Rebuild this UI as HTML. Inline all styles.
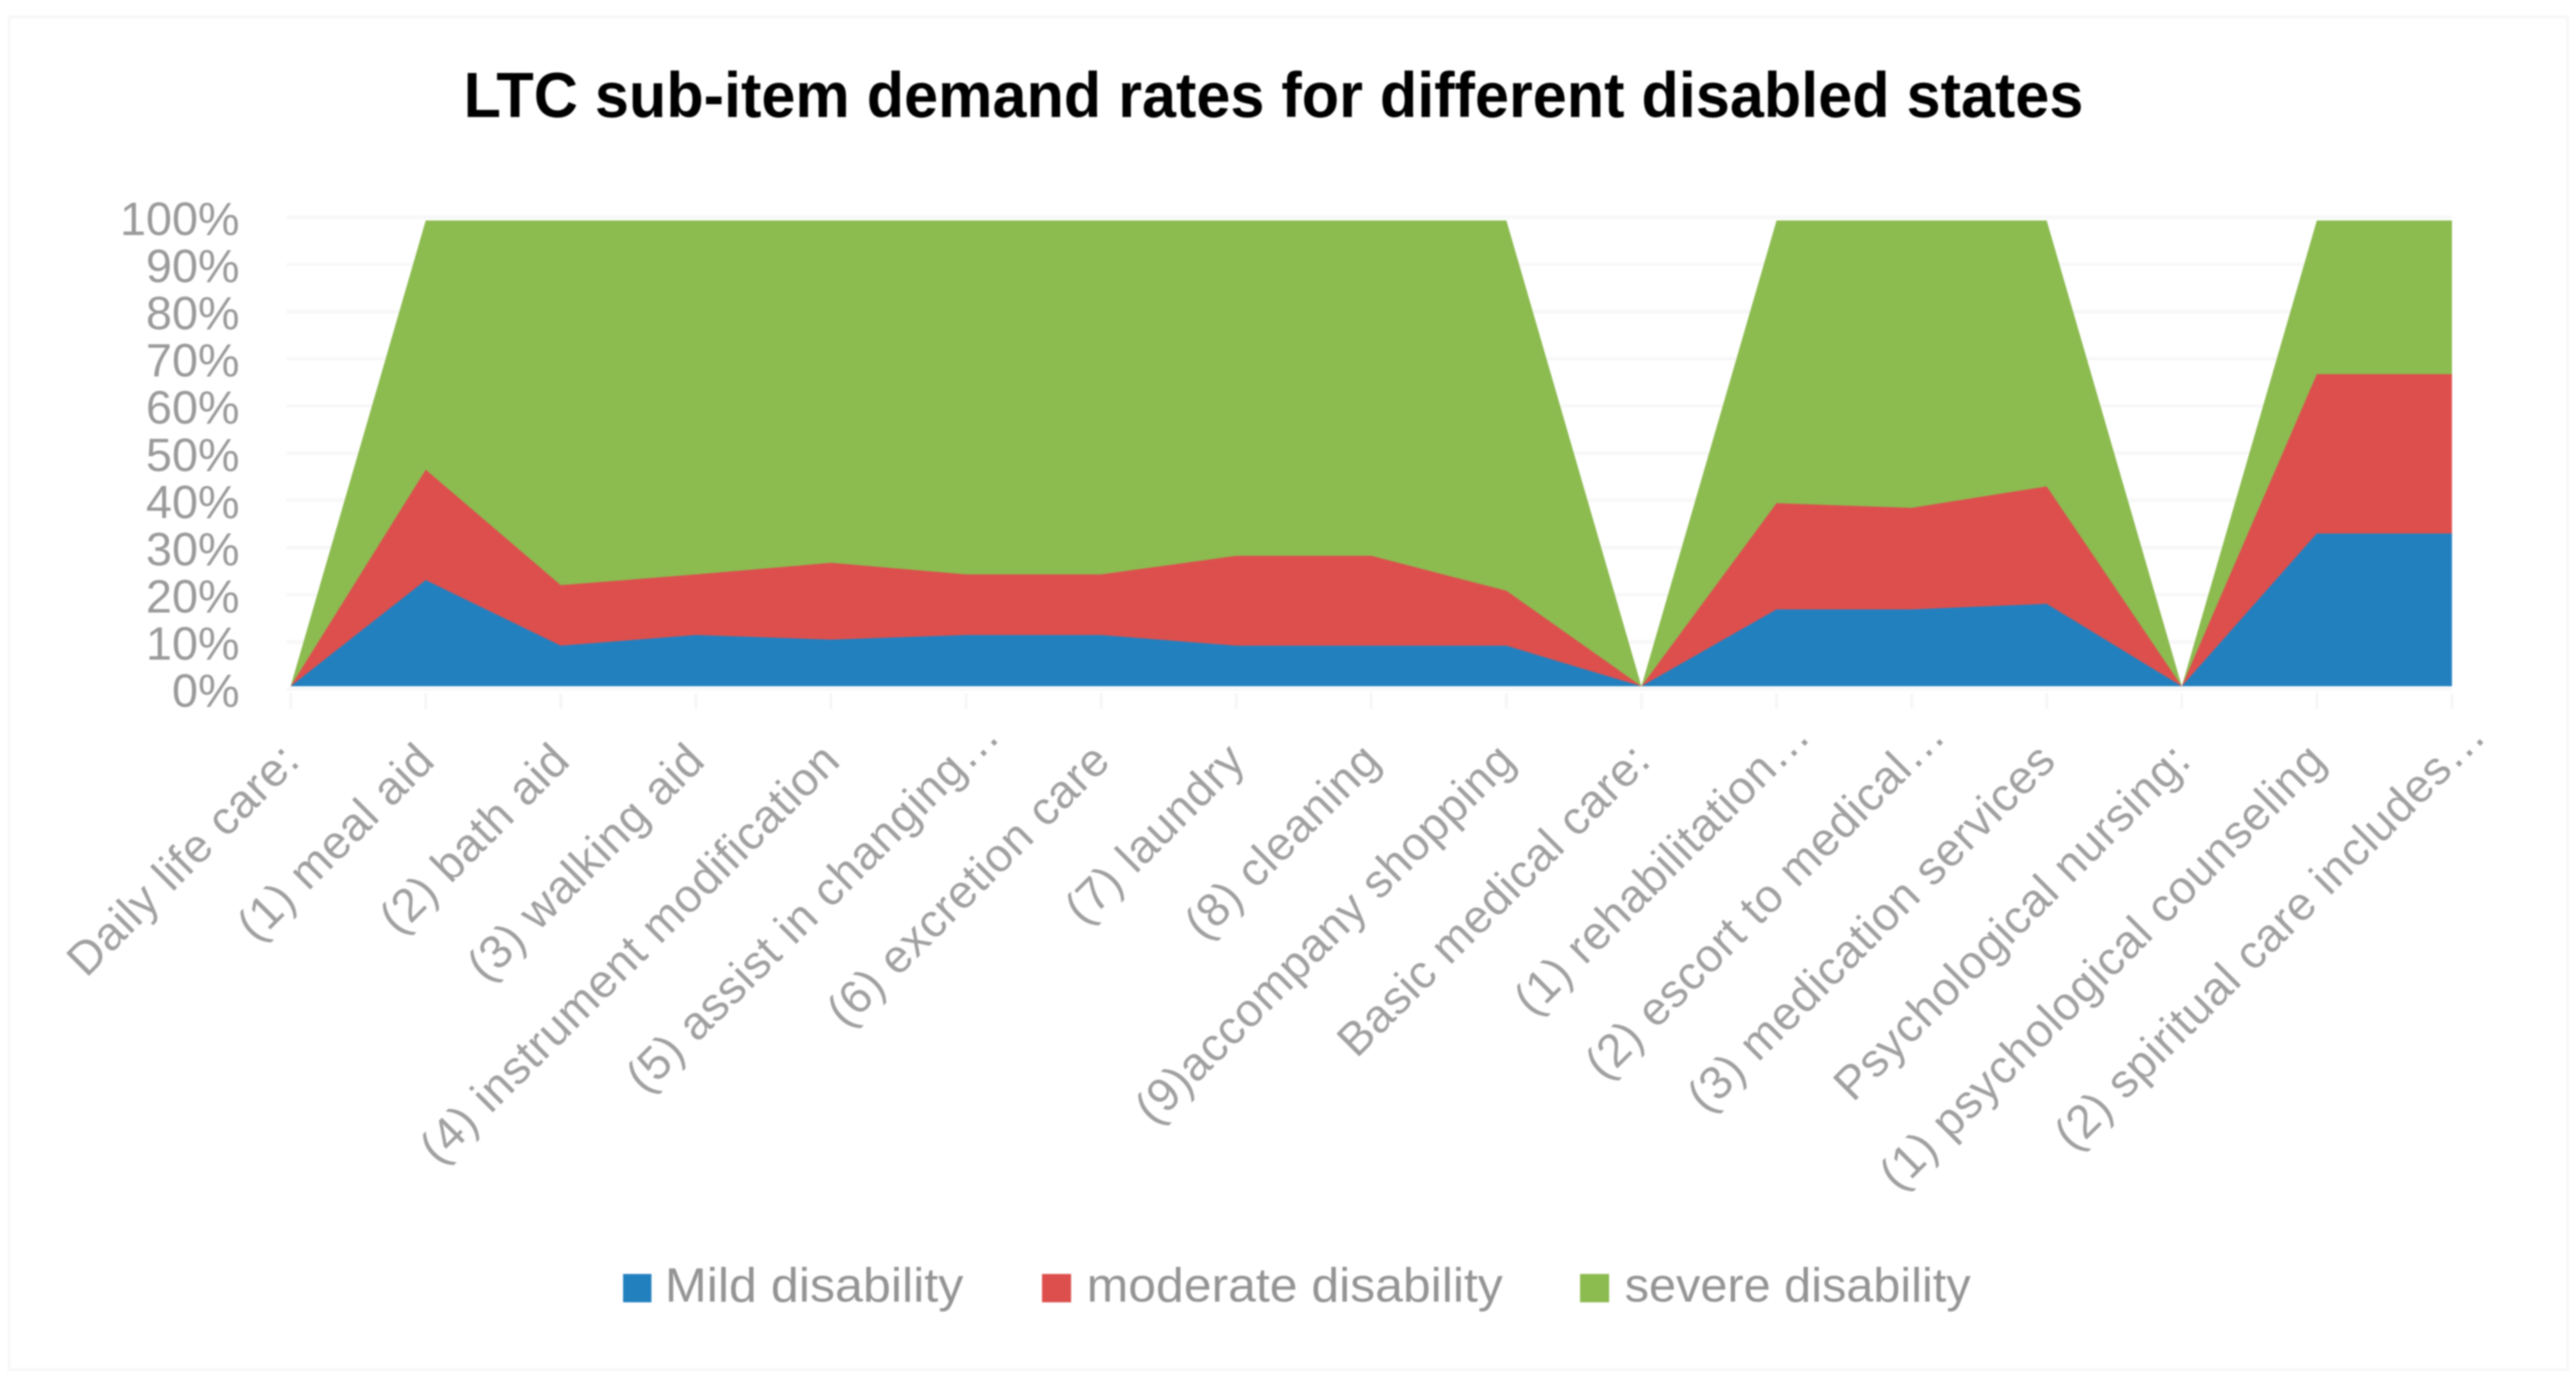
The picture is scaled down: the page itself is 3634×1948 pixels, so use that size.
<!DOCTYPE html>
<html>
<head>
<meta charset="utf-8">
<style>
html,body{margin:0;padding:0;background:#fff;}
svg{display:block;filter:blur(1px);}
text{font-family:"Liberation Sans",sans-serif;}
</style>
</head>
<body>
<svg id="chart" xmlns="http://www.w3.org/2000/svg" width="3634" height="1948" viewBox="0 0 3634 1948">
  <rect x="0" y="0" width="3634" height="1948" fill="#ffffff"/>
  <rect x="13" y="24" width="3609" height="1908" fill="none" stroke="#f8f8f8" stroke-width="5"/>
  <text x="654" y="165" font-size="90" font-weight="700" fill="#000000" textLength="2285" lengthAdjust="spacingAndGlyphs">LTC sub-item demand rates for different disabled states</text>
  <g id="grid"></g>
  <g id="areas"></g>
  <g id="yticks"></g>
  <g id="xticks"></g>
  <g id="xlabels"></g>
  <g>
    <g>
      <rect x="879" y="1797" width="40" height="40" fill="#2380bf"/>
      <text x="938" y="1836" font-size="68" fill="#949494" textLength="421" lengthAdjust="spacingAndGlyphs">Mild disability</text>
    </g>
    <g>
      <rect x="1470" y="1797" width="41" height="40" fill="#dc4f4d"/>
      <text x="1533" y="1836" font-size="68" fill="#949494" textLength="587" lengthAdjust="spacingAndGlyphs">moderate disability</text>
    </g>
    <g>
      <rect x="2229" y="1797" width="41" height="40" fill="#8cbb50"/>
      <text x="2292" y="1836" font-size="68" fill="#949494" textLength="488" lengthAdjust="spacingAndGlyphs">severe disability</text>
    </g>
  </g>
</svg>
<script>
const categories = ["Daily life care:","(1) meal aid","(2) bath aid","(3) walking aid","(4) instrument modification","(5) assist in changing\u2026","(6) excretion care","(7) laundry","(8) cleaning","(9)accompany shopping","Basic medical care:","(1) rehabilitation\u2026","(2) escort to medical\u2026","(3) medication services","Psychological nursing:","(1) psychological counseling","(2) spiritual care includes\u2026"];
const mildValues = [0,22.8,8.7,11,10,11,11,8.7,8.7,8.7,0,16.5,16.5,17.7,0,32.8,32.8];
const moderateValues = [0,23.7,13,13,16.5,13,13,19.3,19.3,11.8,0,22.8,21.8,25.2,0,34.2,34.2];
const severeValues = [0,53.5,78.3,76,73.5,76,76,72,72,79.5,0,60.7,61.7,57.1,0,33,33];
const yTicks = [0,10,20,30,40,50,60,70,80,90,100];

const seriesNames = ["mild","moderate","severe"];
const seriesColors = ["#2380bf","#dc4f4d","#8cbb50"];
const NS = "http://www.w3.org/2000/svg";
const plotLeft = 410, plotRight = 3459, plotTop = 311, plotBottom = 968;

function xScale(i){ return plotLeft + i * (plotRight - plotLeft) / (categories.length - 1); }
function yScale(v){ return plotBottom - v / 100 * (plotBottom - plotTop); }
function gridY(v){ return 972 - v / 100 * 665.5; }

function stackedPercent(){
  const all = [mildValues, moderateValues, severeValues];
  return all.map(function(values, s){
    return values.map(function(_, i){
      let total = 0, below = 0;
      all.forEach(function(a, k){ total += a[i]; if (k <= s) below += a[i]; });
      return total > 0 ? below / total * 100 : 0;
    });
  });
}

const grid = document.getElementById("grid");
yTicks.forEach(function(t){
  const line = document.createElementNS(NS, "line");
  
  
  line.setAttribute("x1", plotLeft - 6);
  line.setAttribute("x2", plotRight);
  line.setAttribute("y1", gridY(t));
  line.setAttribute("y2", gridY(t));
  line.setAttribute("stroke", "#f8f8f8");
  line.setAttribute("stroke-width", "5");
  grid.appendChild(line);
});

const yGroup = document.getElementById("yticks");
yTicks.forEach(function(t){
  const label = document.createElementNS(NS, "text");
  
  
  label.setAttribute("x", 338);
  label.setAttribute("y", gridY(t) + 25);
  label.setAttribute("text-anchor", "end");
  label.setAttribute("font-size", "66");
  label.setAttribute("fill", "#9a9a9a");
  label.textContent = t + "%";
  yGroup.appendChild(label);
});

const stacks = stackedPercent();
const areas = document.getElementById("areas");
for (let s = stacks.length - 1; s >= 0; s--) {
  const top = stacks[s].map(function(v, i){ return xScale(i).toFixed(1) + "," + yScale(v).toFixed(1); });
  const d = "M" + xScale(0) + "," + yScale(0) + " L" + top.join(" L") + " L" + xScale(categories.length - 1) + "," + yScale(0) + " Z";
  const path = document.createElementNS(NS, "path");
  
  
  path.setAttribute("d", d);
  path.setAttribute("fill", seriesColors[s]);
  areas.appendChild(path);
}

const xTickGroup = document.getElementById("xticks");
const xLabelGroup = document.getElementById("xlabels");
categories.forEach(function(c, i){
  const tick = document.createElementNS(NS, "line");
  
  
  tick.setAttribute("x1", xScale(i));
  tick.setAttribute("x2", xScale(i));
  tick.setAttribute("y1", 978);
  tick.setAttribute("y2", 1000);
  tick.setAttribute("stroke", "#f6f6f6");
  tick.setAttribute("stroke-width", "4");
  xTickGroup.appendChild(tick);

  const label = document.createElementNS(NS, "text");
  
  
  const extra = c.endsWith("\u2026") ? 50 : 0;
  const lx = xScale(i) + 16 + extra * Math.SQRT1_2, ly = 1076 - extra * Math.SQRT1_2;
  label.setAttribute("transform", "translate(" + lx + "," + ly + ") rotate(-45)");
  label.setAttribute("text-anchor", "end");
  label.setAttribute("font-size", "66");
  label.setAttribute("letter-spacing", "1");
  label.setAttribute("fill", "#a0a0a0");
  label.textContent = c;
  xLabelGroup.appendChild(label);
});
</script>
</body>
</html>
